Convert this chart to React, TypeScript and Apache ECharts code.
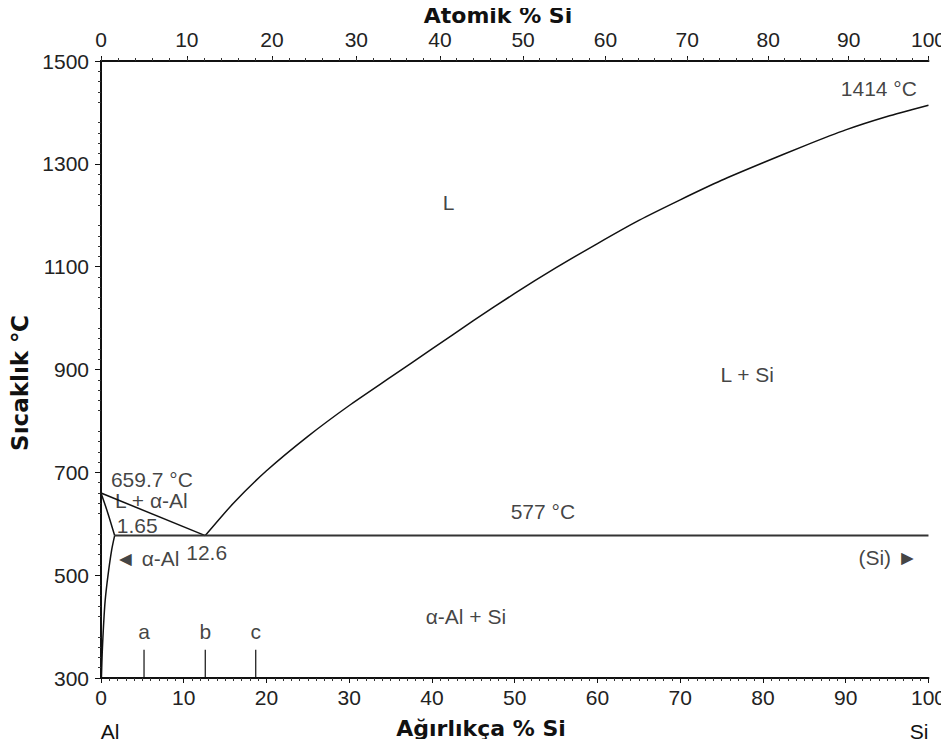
import React, { useEffect, useRef } from "react";
import * as echarts from "echarts";

// ---- data ----
const AL_MASS = 26.98;
const SI_MASS = 28.09;
const weightTicks = [0, 10, 20, 30, 40, 50, 60, 70, 80, 90, 100];
const atomicTicks = [0, 10, 20, 30, 40, 50, 60, 70, 80, 90, 100];
const atomicMinorTicks = Array.from({ length: 51 }, (_, i) => i * 2);
const tempLabels = [300, 500, 700, 900, 1100, 1300, 1500];

const liquidusAl = [[0, 659.7], [12.6, 577]];
const liquidusSi = [
  [12.6, 577], [16, 640], [20, 703], [25, 770], [30, 830], [35, 885], [40, 940],
  [45, 995], [50, 1048], [55, 1098], [60, 1145], [65, 1190], [70, 1230], [75, 1268],
  [80, 1302], [85, 1335], [90, 1366], [95, 1392], [100, 1414],
];
const solidusAl = [[0, 659.7], [0.8, 622], [1.65, 577]];
const solvusAl = [[1.65, 577], [1.3, 550], [0.85, 500], [0.5, 450], [0.3, 400], [0.15, 350], [0.05, 300]];
const eutectic = [[1.65, 577], [100, 577]];
const alloyNames = ["a", "b", "c"];
const alloyX = [5.2, 12.6, 18.7];
const alloyMarkRange = [300, 355];
const alloyLabelT = 390;

// [x (wt%), T, text, align]
const regionLabels: [number, number, string, string][] = [
  [42.0, 1224, "L", "center"],
  [78.1, 891, "L + Si", "center"],
  [98.6, 1447, "1414 °C", "right"],
  [1.2, 687, "659.7 °C", "left"],
  [1.7, 646, "L + α-Al", "left"],
  [1.9, 597, "1.65", "left"],
  [10.3, 545, "12.6", "left"],
  [1.7, 533, "◄ α-Al", "left"],
  [53.4, 623, "577 °C", "center"],
  [98.7, 535, "(Si) ►", "right"],
  [44.1, 419, "α-Al + Si", "center"],
];

const atomicToWeight = (a: number) =>
  (100 * a * SI_MASS) / (a * SI_MASS + (100 - a) * AL_MASS);
const weightToAtomic = (w: number) =>
  (100 * (w / SI_MASS)) / (w / SI_MASS + (100 - w) / AL_MASS);

const FONT = "'Liberation Sans', Arial, sans-serif";
const TITLE_FONT = "'DejaVu Sans', sans-serif";
const FS = 21;

export default function App() {
  const ref = useRef<HTMLDivElement>(null);
  useEffect(() => {
    if (!ref.current) return;
    const chart = echarts.init(ref.current, null, { renderer: "svg" });
    const lineStyle = { color: "#111", width: 1.5 };
    const lineSeries = (data: number[][], extra: any = {}) => ({
      type: "line",
      data,
      symbol: "none",
      xAxisIndex: 0,
      yAxisIndex: 0,
      lineStyle: { ...lineStyle, ...(extra.lineStyle || {}) },
      smooth: extra.smooth || false,
      silent: true,
    });
    const markSeries = alloyX.map((x) =>
      lineSeries([[x, alloyMarkRange[0]], [x, alloyMarkRange[1]]], { lineStyle: { width: 1.2 } })
    );
    const axisLabelStyle = { color: "#222", fontSize: FS, fontFamily: FONT };
    chart.setOption({
      animation: false,
      backgroundColor: "#fff",
      grid: { left: 101, right: 20, top: 61, bottom: 69 },
      xAxis: [
        {
          type: "value",
          position: "bottom",
          min: 0,
          max: 100,
          interval: 10,
          splitLine: { show: false },
          axisLine: { lineStyle: { color: "#111", width: 2 } },
          axisTick: { length: 5, customValues: weightTicks, lineStyle: { color: "#111" } },
          minorTick: { show: true, splitNumber: 10, length: 3, lineStyle: { color: "#333" } },
          axisLabel: { ...axisLabelStyle, margin: 9, customValues: weightTicks, formatter: (v: number) => String(v) },
        },
        {
          type: "value",
          position: "top",
          min: 0,
          max: 100,
          splitLine: { show: false },
          axisLine: { lineStyle: { color: "#111", width: 2 } },
          axisTick: {
            length: 5,
            customValues: atomicTicks.map(atomicToWeight),
            lineStyle: { color: "#111" },
          },
          axisLabel: {
            ...axisLabelStyle,
            margin: 11,
            customValues: atomicTicks.map(atomicToWeight),
            formatter: (v: number) => String(Math.round(weightToAtomic(v))),
          },
        },
        {
          type: "value",
          position: "top",
          min: 0,
          max: 100,
          splitLine: { show: false },
          axisLine: { show: false },
          axisTick: {
            length: 3,
            customValues: atomicMinorTicks.map(atomicToWeight),
            lineStyle: { color: "#333" },
          },
          axisLabel: { show: false },
        },
      ],
      yAxis: [
        {
          type: "value",
          position: "left",
          min: 300,
          max: 1500,
          interval: 100,
          splitLine: { show: false },
          axisLine: { lineStyle: { color: "#111", width: 2 } },
          axisTick: { length: 6, customValues: tempLabels, lineStyle: { color: "#111" } },
          minorTick: { show: true, splitNumber: 5, length: 3, lineStyle: { color: "#333" } },
          axisLabel: { ...axisLabelStyle, margin: 12, customValues: tempLabels, formatter: (v: number) => String(v) },
        },
        {
          type: "value",
          position: "right",
          min: 300,
          max: 1500,
          interval: 100,
          splitLine: { show: false },
          axisLine: { lineStyle: { color: "#111", width: 2 } },
          axisTick: { length: 4, inside: true, customValues: tempLabels, lineStyle: { color: "#111" } },
          minorTick: { show: true, splitNumber: 5, length: 3, lineStyle: { color: "#333" } },
          axisLabel: { show: false },
        },
      ],
      series: [
        lineSeries(liquidusAl),
        lineSeries(liquidusSi, { smooth: 0.2 }),
        lineSeries(solidusAl, { smooth: 0.3 }),
        lineSeries(solvusAl, { smooth: 0.3 }),
        lineSeries(eutectic, { lineStyle: { width: 2, color: "#333" } }),
        ...markSeries,
        {
          type: "scatter",
          symbolSize: 0,
          silent: true,
          data: alloyNames.map((n, i) => [alloyX[i], alloyLabelT, n]),
          label: {
            show: true,
            position: "inside",
            formatter: (p: any) => p.value[2],
            color: "#111",
            fontSize: FS,
            fontFamily: FONT,
          },
        },
        ...(["left", "center", "right"] as const).map((al) => ({
          type: "scatter",
          symbolSize: 0,
          silent: true,
          data: regionLabels.filter((r) => r[3] === al).map((r) => [r[0], r[1], r[2]]),
          label: {
            show: true,
            position: "inside",
            align: al,
            verticalAlign: "middle",
            formatter: (p: any) => p.value[2],
            color: "#111",
            fontSize: FS,
            fontFamily: FONT,
          },
        })),
      ],
      graphic: [
        {
          type: "text",
          x: 498,
          y: 15,
          style: {
            text: "Atomik % Si",
            font: `bold 22px ${TITLE_FONT}`,
            fill: "#111",
            align: "center",
            verticalAlign: "middle",
          },
        },
        {
          type: "text",
          x: 481,
          y: 728,
          style: {
            text: "Ağırlıkça % Si",
            font: `bold 22px ${TITLE_FONT}`,
            fill: "#111",
            align: "center",
            verticalAlign: "middle",
          },
        },
        {
          type: "text",
          x: 20,
          y: 383,
          rotation: Math.PI / 2,
          style: {
            text: "Sıcaklık ℃",
            font: `bold 23px ${TITLE_FONT}`,
            fill: "#111",
            align: "center",
            verticalAlign: "middle",
          },
        },
        {
          type: "text",
          x: 110,
          y: 731,
          style: { text: "Al", font: `${FS}px ${FONT}`, fill: "#111", align: "center", verticalAlign: "middle" },
        },
        {
          type: "text",
          x: 919,
          y: 731,
          style: { text: "Si", font: `${FS}px ${FONT}`, fill: "#111", align: "center", verticalAlign: "middle" },
        },
      ],
    });
    return () => chart.dispose();
  }, []);
  return <div ref={ref} style={{ width: 949, height: 747, margin: -8 }} />;
}
